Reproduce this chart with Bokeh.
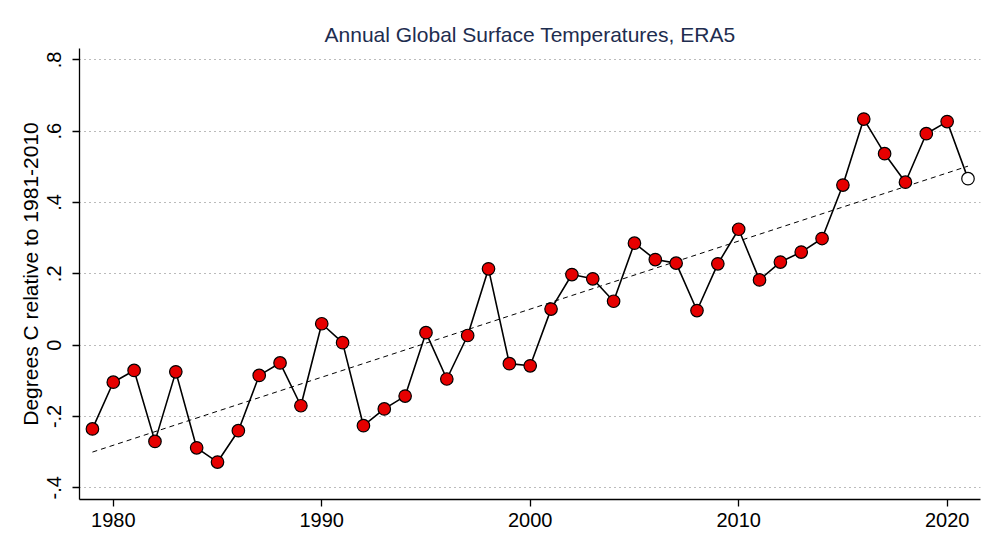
from bokeh.plotting import figure
from bokeh.models import FixedTicker, Range1d
from bokeh.embed import file_html
from bokeh.resources import INLINE

years = list(range(1979, 2022))
anomaly = [-0.235, -0.104, -0.071, -0.270, -0.075, -0.288, -0.328, -0.240, -0.085, -0.050,
           -0.170, 0.060, 0.007, -0.226, -0.179, -0.143, 0.035, -0.095, 0.027, 0.214,
           -0.052, -0.058, 0.101, 0.198, 0.186, 0.123, 0.286, 0.240, 0.230, 0.097,
           0.228, 0.325, 0.183, 0.233, 0.261, 0.299, 0.449, 0.634, 0.537, 0.457,
           0.593, 0.627, 0.467]
complete_years = years[:-1]
complete_values = anomaly[:-1]
partial_years = years[-1:]
partial_values = anomaly[-1:]
trend_years = [1979, 2021]
trend_values = [-0.300, 0.502]

x_ticks = [1980, 1990, 2000, 2010, 2020]
y_ticks = [-0.4, -0.2, 0.0, 0.2, 0.4, 0.6, 0.8]
y_tick_labels = ["-.4", "-.2", "0", ".2", ".4", ".6", ".8"]

FONT = "Liberation Sans"

p = figure(width=992, height=548, output_backend="svg", toolbar_location=None,
           x_range=Range1d(1978.38, 2021.6), y_range=Range1d(-0.433, 0.832),
           min_border_left=79, min_border_right=12, min_border_top=48, min_border_bottom=49,
           title="Annual Global Surface Temperatures, ERA5")
p.outline_line_color = None
p.background_fill_color = "white"
p.border_fill_color = "white"

p.title.align = "center"
p.title.text_font = FONT
p.title.text_font_style = "normal"
p.title.text_font_size = "21px"
p.title.text_color = "#1e2d4f"
p.title.standoff = 5

# axes
p.xaxis.ticker = FixedTicker(ticks=x_ticks)
p.yaxis.ticker = FixedTicker(ticks=y_ticks)
p.yaxis.major_label_overrides = {t: l for t, l in zip(y_ticks, y_tick_labels)}
for ax in (p.xaxis[0], p.yaxis[0]):
    ax.axis_line_color = "black"
    ax.axis_line_width = 1.3
    ax.major_tick_line_color = "black"
    ax.major_tick_line_width = 1.3
    ax.major_tick_out = 7
    ax.major_tick_in = 0
    ax.minor_tick_line_color = None
    ax.major_label_text_font = FONT
    ax.major_label_text_font_size = "20px"
    ax.major_label_text_color = "black"
    ax.axis_label_text_font = FONT
    ax.axis_label_text_font_style = "normal"
    ax.axis_label_text_font_size = "21px"
    ax.axis_label_text_color = "black"
p.xaxis.major_label_standoff = 6
p.yaxis.major_label_orientation = "parallel"
p.yaxis.major_label_standoff = 11
p.yaxis.axis_label = "Degrees C relative to 1981-2010"
p.yaxis.axis_label_standoff = 3

p.xgrid.grid_line_color = None
p.ygrid.ticker = FixedTicker(ticks=y_ticks)
p.ygrid.grid_line_color = "#777777"
p.ygrid.grid_line_dash = "1 4"
p.ygrid.grid_line_width = 1

# trend
p.line(trend_years, trend_values, line_color="black", line_width=1, line_dash="5 4")
# series
p.line(years, anomaly, line_color="black", line_width=1.6)
p.scatter(complete_years, complete_values, size=12.5, fill_color="#e60000",
          line_color="black", line_width=1.2)
p.scatter(partial_years, partial_values, size=12.5, fill_color="white",
          line_color="black", line_width=1.2)

open("out.html", "w").write(file_html(p, INLINE))
